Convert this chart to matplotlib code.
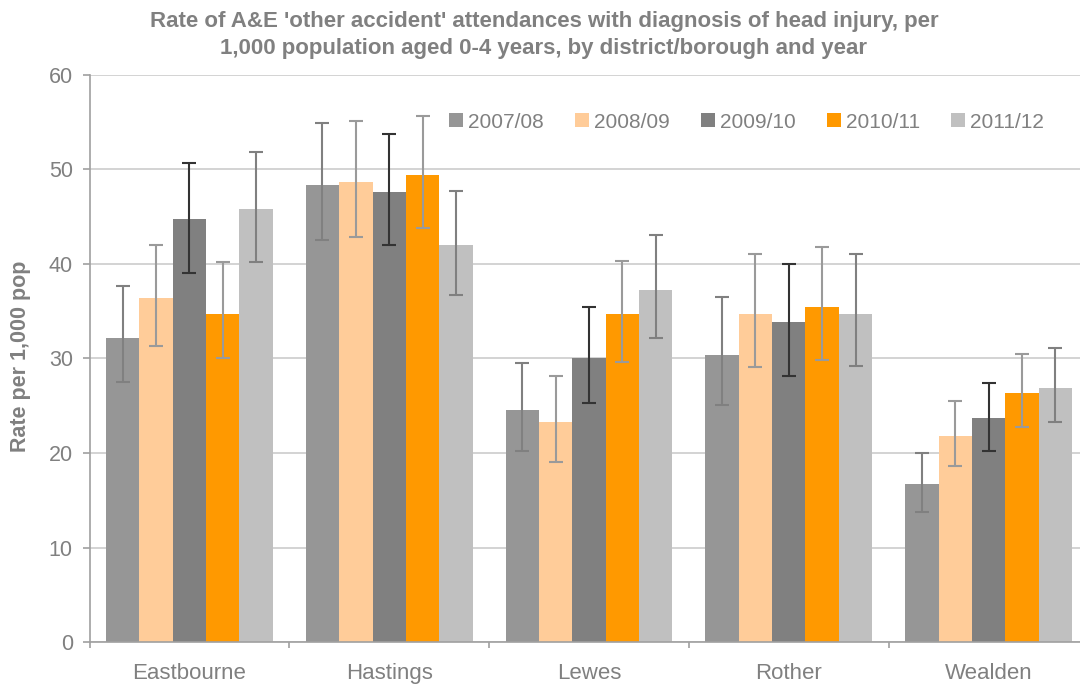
import matplotlib
matplotlib.use("Agg")
import matplotlib.pyplot as plt
import numpy as np

plt.rcParams['font.family'] = ['Liberation Sans', 'DejaVu Sans']

districts = ["Eastbourne", "Hastings", "Lewes", "Rother", "Wealden"]
years = ["2007/08", "2008/09", "2009/10", "2010/11", "2011/12"]

# rate per 1,000 population, one list per year (districts in order above)
rate_0708 = [32.2, 48.4, 24.6, 30.4, 16.7]
rate_0809 = [36.4, 48.7, 23.3, 34.7, 21.8]
rate_0910 = [44.8, 47.6, 30.1, 33.9, 23.7]
rate_1011 = [34.7, 49.4, 34.7, 35.4, 26.3]
rate_1112 = [45.8, 42.0, 37.2, 34.7, 26.9]

# 95% confidence limits
low_0708 = [27.5, 42.5, 20.2, 25.1, 13.8]
upp_0708 = [37.7, 54.9, 29.5, 36.5, 20.0]
low_0809 = [31.3, 42.9, 19.1, 29.1, 18.6]
upp_0809 = [42.0, 55.1, 28.2, 41.1, 25.5]
low_0910 = [39.1, 42.0, 25.3, 28.2, 20.2]
upp_0910 = [50.7, 53.8, 35.4, 40.0, 27.4]
low_1011 = [30.0, 43.8, 29.6, 29.8, 22.7]
upp_1011 = [40.2, 55.7, 40.3, 41.8, 30.5]
low_1112 = [40.2, 36.7, 32.2, 29.2, 23.3]
upp_1112 = [51.8, 47.7, 43.1, 41.1, 31.1]

rates = [rate_0708, rate_0809, rate_0910, rate_1011, rate_1112]
lows = [low_0708, low_0809, low_0910, low_1011, low_1112]
upps = [upp_0708, upp_0809, upp_0910, upp_1011, upp_1112]

bar_colors = ["#969696", "#FFCC99", "#808080", "#FF9900", "#C0C0C0"]
err_colors = ["#808080", "#9a9a9a", "#333333", "#9a9a9a", "#808080"]
text_grey = "#808080"

W, H = 1080, 686
fig = plt.figure(figsize=(W / 100, H / 100), dpi=100)
ax = fig.add_axes([89.5 / W, 1 - 642 / H, 999 / W, (642 - 75) / H])

n = len(districts)
x = np.arange(n)
width = 0.167
for k in range(len(years)):
    pos = x + (k - 2) * width
    vals = np.array(rates[k])
    err = np.vstack([vals - np.array(lows[k]), np.array(upps[k]) - vals])
    ax.bar(pos, vals, width=width, color=bar_colors[k], label=years[k], zorder=2)
    ax.errorbar(pos, vals, yerr=err, fmt="none", ecolor=err_colors[k],
                elinewidth=1.5, capsize=4.7, capthick=1.5, zorder=3)

ax.set_xlim(-0.5, n - 0.5)
ax.set_ylim(0, 60)
ax.set_yticks(np.arange(0, 61, 10))
ax.yaxis.grid(True, color="#cccccc", linewidth=1.2, zorder=0)
ax.set_axisbelow(True)

ax.set_xticks(x)
ax.set_xticklabels(districts)
ax.set_xticks(np.arange(-0.5, n, 1.0), minor=True)
ax.tick_params(axis="x", which="major", length=0, pad=15, labelsize=16, labelcolor=text_grey)
ax.tick_params(axis="x", which="minor", length=4.5, width=1.2, color="#a0a0a0", direction="out")
ax.tick_params(axis="y", length=5, width=1.2, color="#a0a0a0", labelsize=15.5,
               labelcolor=text_grey, pad=7)

for side in ["top", "right"]:
    ax.spines[side].set_visible(False)
for side in ["left", "bottom"]:
    ax.spines[side].set_color("#a0a0a0")
    ax.spines[side].set_linewidth(1.2)

fig.text(21 / W, 1 - 356 / H, "Rate per 1,000 pop", rotation=90, ha="center", va="center",
         fontsize=15.5, fontweight="bold", color=text_grey)

leg = fig.legend(*ax.get_legend_handles_labels(), loc="center right",
                 bbox_to_anchor=(1044 / W, 1 - 122 / H), bbox_transform=fig.transFigure,
                 ncol=5, frameon=False, fontsize=15, borderpad=0, borderaxespad=0,
                 handlelength=0.66, handleheight=0.66, handletextpad=0.25,
                 columnspacing=1.5)
for t in leg.get_texts():
    t.set_color(text_grey)

title_x = 544 / W
fig.text(title_x, 1 - 27 / H,
         "Rate of A&E 'other accident' attendances with diagnosis of head injury, per",
         ha="center", va="baseline", fontsize=16, fontweight="bold", color=text_grey)
fig.text(title_x, 1 - 54 / H,
         "1,000 population aged 0-4 years, by district/borough and year",
         ha="center", va="baseline", fontsize=16, fontweight="bold", color=text_grey)

fig.savefig("out.png", dpi=100, facecolor="white")
